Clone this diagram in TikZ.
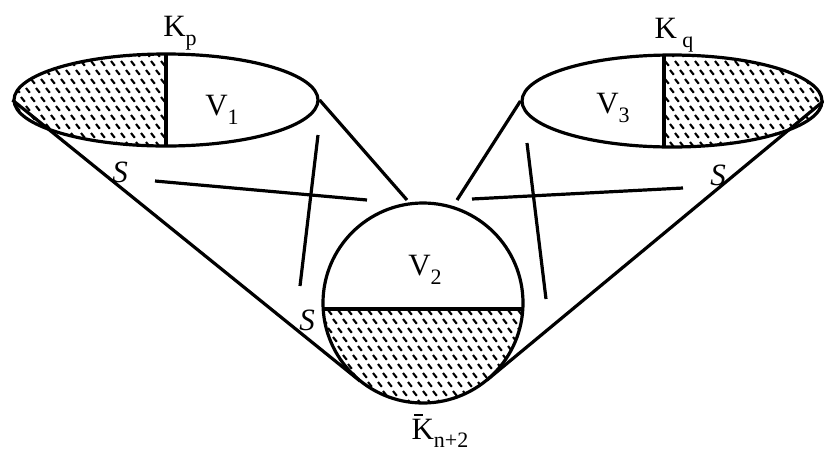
\documentclass[tikz,border=0pt]{standalone}
\usepackage{fontspec}
\setmainfont{Liberation Serif}
\usetikzlibrary{shapes.geometric}
\newcommand{\lbsub}[1]{\raisebox{-0.28em}{\fontsize{22}{22}\selectfont #1}}
\newcommand{\hatchgrid}[4]{% x0 y0 nx ny
  \foreach \j in {0,...,#4}{
    \foreach \i in {0,...,#3}{
      \draw[hatch] ({#1+\i*10+mod(\j,2)*5},{#2+\j*9}) -- ++(3.8,4.8);
    }
  }
}
\begin{document}
\begin{tikzpicture}[x=1pt,y=-1pt,
  outline/.style={line width=3.2pt},
  hatch/.style={line width=2.1pt},
  lbl/.style={font=\fontsize{31}{31}\selectfont, inner sep=0pt}]
\useasboundingbox (0,0) rectangle (824,451);

% ---- hatching ----
\begin{scope}
  \clip (166,100) ellipse [x radius=152pt, y radius=46pt];
  \clip (0,0) rectangle (166,160);
  \hatchgrid{6}{52}{16}{11}
\end{scope}
\begin{scope}
  \clip (672,101) ellipse [x radius=150pt, y radius=46pt];
  \clip (664,0) rectangle (824,160);
  \hatchgrid{660}{52}{17}{11}
\end{scope}
\begin{scope}
  \clip (423,303) circle [radius=100pt];
  \clip (300,309) rectangle (540,420);
  \hatchgrid{318}{310}{22}{11}
\end{scope}

% ---- shapes ----
\node[ellipse, draw, outline, minimum width=304pt, minimum height=92pt, inner sep=0pt] (L) at (166,100) {};
\node[ellipse, draw, outline, minimum width=300pt, minimum height=92pt, inner sep=0pt] (R) at (672,101) {};
\node[circle, draw, outline, minimum size=200pt, inner sep=0pt] (C) at (423,303) {};

% dividers
\coordinate (Ltop) at (166,54);
\coordinate (Lbot) at (166,146);
\draw[outline] (Ltop) -- (Lbot);
\coordinate (Rtop) at (664,55);
\coordinate (Rbot) at (664,147);
\draw[outline] (Rtop) -- (Rbot);
\coordinate (Cl) at (323.2,309);
\coordinate (Cr) at (522.8,309);
\draw[outline] (Cl) -- (Cr);

% cone lines
\coordinate (tl) at (360,381);
\coordinate (tr) at (487,380);
\coordinate (al) at (407,200);
\coordinate (ar) at (457,200);
\draw[outline] (L.west) -- (tl);
\draw[outline] (R.east) -- (tr);
\draw[outline] (L.east) -- (al);
\draw[outline] (R.west) -- (ar);

% crossing lines
\coordinate (x1a) at (155,181); \coordinate (x1b) at (367,200);
\coordinate (x2a) at (318,135); \coordinate (x2b) at (300,286);
\coordinate (x3a) at (527,143); \coordinate (x3b) at (546,299);
\coordinate (x4a) at (472,199); \coordinate (x4b) at (683,188);
\draw[outline] (x1a) -- (x1b);
\draw[outline] (x2a) -- (x2b);
\draw[outline] (x3a) -- (x3b);
\draw[outline] (x4a) -- (x4b);

% ---- labels ----
\node[lbl] (kp) at (180,33) {K\lbsub{p}};
\node[lbl] (v1) at (222,110) {V\lbsub{1}};
\node[lbl] (s1) at (120,172) {\textit{S}};
\node[lbl] (kq) at (674,35) {K\,\lbsub{q}};
\node[lbl] (v3) at (613,108) {V\lbsub{3}};
\node[lbl] (s2) at (718,175) {\textit{S}};
\node[lbl] (v2) at (425,270) {V\lbsub{2}};
\node[lbl] (s3) at (307,320) {\textit{S}};
\node[lbl] (kn) at (440,431) {\rlap{\hspace{0.08em}\raisebox{0.76em}{\rule{0.3em}{1.5pt}}}K\lbsub{n+2}};
\end{tikzpicture}
\end{document}
